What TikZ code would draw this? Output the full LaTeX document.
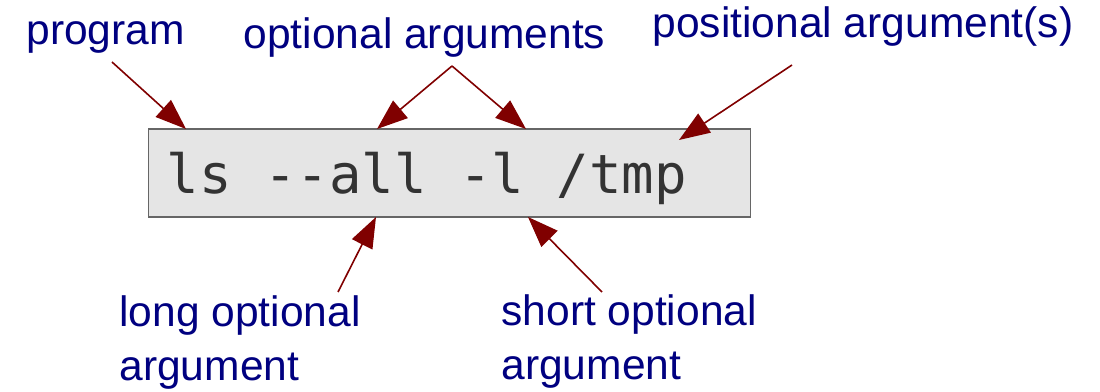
\documentclass[tikz,border=0pt]{standalone}
\usepackage{fontspec}
\setmainfont{Liberation Sans}
\newfontfamily\cmdfont{DejaVu Sans Mono}
\usetikzlibrary{arrows.meta}

\definecolor{lblblue}{HTML}{000080}
\definecolor{arrred}{HTML}{800000}
\definecolor{boxfill}{HTML}{E5E5E5}
\definecolor{boxline}{HTML}{666666}
\definecolor{cmdgray}{HTML}{333333}

% one blank cell of the mono font
\newcommand{\cell}{\hphantom{x}}

\tikzset{every picture/.style={line width=0.75pt}}
\tikzset{
  lbl/.style={text=lblblue, inner sep=0pt, align=left,
    font=\fontsize{31.9}{40.5}\selectfont},
  pointer/.style={draw=arrred, line width=1.2pt,
    -{Triangle[length=23pt,width=17pt]}},
  cmdbox/.style={draw=boxline, fill=boxfill, line width=1.1pt,
    text=cmdgray, inner xsep=13.5pt, text width=424.5pt, align=left,
    minimum height=66pt, text height=31.5pt, text depth=0pt,
    font=\cmdfont\fontsize{40.5}{48}\selectfont}
}

\begin{document}
\begin{tikzpicture}[x=0.75pt,y=0.75pt,yscale=-1,xscale=1]
\useasboundingbox (0,0) rectangle (1100,392);

% Command box
\node[cmdbox, anchor=west] (cmd) at (148,173) {ls\cell-{}-all\cell-l\cell/tmp};

% Text Node
\node[lbl, anchor=base west] (prog) at (26,45) {program};
% Text Node
\node[lbl, anchor=base west] (optargs) at (243,49) {optional arguments};
% Text Node
\node[lbl, anchor=base west] (posargs) at (652,38) {positional argument(s)};
% Text Node
\node[lbl, anchor=base west] (longopt) at (119,380) {long optional\\argument};
% Text Node
\node[lbl, anchor=base west] (shortopt) at (501,379) {short optional\\argument};

% ends of the pointers
\coordinate (progfoot) at (112,62);
\coordinate (optfoot) at (452,66);
\coordinate (posfoot) at (792,65);
\coordinate (longfoot) at (338,292);
\coordinate (shortfoot) at (602,292);
\coordinate (progtip) at (186,129);
\coordinate (alltip) at (377,129);
\coordinate (ltip) at (526,129);
\coordinate (tmptip) at (679,140);
\coordinate (longtip) at (376,217);
\coordinate (shorttip) at (528,217);

% Pointers
\draw[pointer] (progfoot) -- (progtip);
\draw[pointer] (optfoot) -- (alltip);
\draw[pointer] (optfoot) -- (ltip);
\draw[pointer] (posfoot) -- (tmptip);
\draw[pointer] (longfoot) -- (longtip);
\draw[pointer] (shortfoot) -- (shorttip);

\end{tikzpicture}
\end{document}
